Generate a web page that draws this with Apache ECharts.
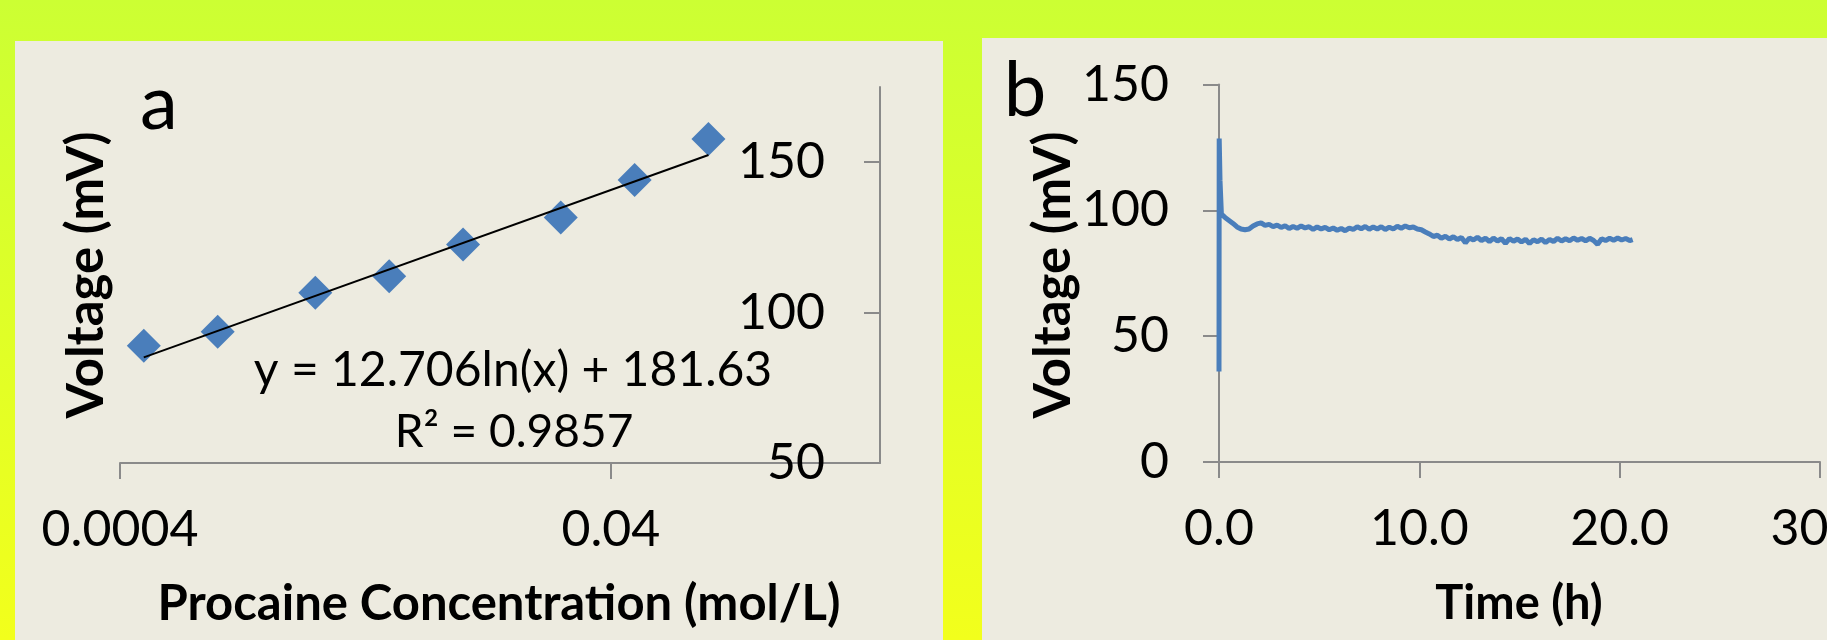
<!DOCTYPE html>
<html>
<head>
    <meta charset="utf-8">
    <script src="https://cdn.jsdelivr.net/npm/echarts@6/dist/echarts.min.js"></script>
    <style>
        html, body { margin: 0; padding: 0; }
        #chart { width: 1827px; height: 640px; }
    </style>
</head>
<body>
    <div id="chart"></div>
    <script type="text/javascript">
        // panel a: procaine concentration (mol/L) vs voltage (mV)
        var concA = [0.0005, 0.001, 0.0025, 0.005, 0.01, 0.025, 0.05, 0.1];
        var voltA = [89.0, 93.6, 106.6, 112.1, 122.6, 131.6, 144.1, 157.7];
        // log fit y = 12.706ln(x) + 181.63, end points as drawn
        var fitConc = [0.0005, 0.1];
        var fitVolt = [85.1, 152.4];
        var xTicksA = [0.0004, 0.04];
        var xTickLabelsA = ['0.0004', '0.04'];
        var yTicksA = [50, 100, 150];

        // panel b: voltage trace over time (h, mV)
        var traceB = [
            [0, 36], [0.01, 128.5], [0.05, 112], [0.12, 98.5], [0.3, 97.2], [0.5, 96.0],
            [0.7, 94.8], [0.9, 93.4], [1.1, 92.6], [1.3, 92.3], [1.5, 92.6], [1.7, 93.8],
            [1.9, 94.6], [2.1, 95.0], [2.3, 94.0], [2.5, 94.4], [2.7, 93.5], [2.9, 94.1],
            [3.1, 93.2], [3.3, 93.9], [3.5, 92.8], [3.7, 93.6], [3.9, 92.9], [4.1, 93.8],
            [4.3, 93.0], [4.5, 93.5], [4.7, 92.4], [4.9, 93.4], [5.1, 92.6], [5.3, 93.2],
            [5.5, 92.3], [5.7, 93.0], [5.9, 92.1], [6.1, 92.8], [6.3, 91.9], [6.5, 92.9],
            [6.7, 92.4], [6.9, 93.5], [7.1, 92.7], [7.3, 93.6], [7.5, 92.5], [7.7, 93.4],
            [7.9, 92.6], [8.1, 93.5], [8.3, 92.4], [8.5, 93.3], [8.7, 92.6], [8.9, 93.7],
            [9.1, 92.9], [9.3, 93.8], [9.5, 93.1], [9.7, 93.4], [9.9, 92.6], [10.1, 92.3],
            [10.3, 91.4], [10.5, 90.6], [10.7, 89.6], [10.9, 90.1], [11.1, 88.9], [11.3, 89.7],
            [11.5, 88.6], [11.7, 89.5], [11.9, 88.4], [12.1, 89.2], [12.3, 87.1], [12.5, 89.0],
            [12.7, 88.2], [12.9, 89.3], [13.1, 88.0], [13.3, 88.9], [13.5, 87.6], [13.7, 89.0],
            [13.9, 87.8], [14.1, 88.7], [14.3, 86.9], [14.5, 88.8], [14.7, 87.7], [14.9, 88.6],
            [15.1, 87.4], [15.3, 88.5], [15.5, 86.8], [15.7, 88.3], [15.9, 87.5], [16.1, 88.6],
            [16.3, 87.2], [16.5, 88.4], [16.7, 87.6], [16.9, 88.9], [17.1, 87.8], [17.3, 88.7],
            [17.5, 87.9], [17.7, 89.0], [17.9, 88.1], [18.1, 88.8], [18.3, 87.9], [18.5, 88.9],
            [18.7, 88.0], [18.9, 86.5], [19.1, 88.7], [19.3, 88.0], [19.5, 88.9], [19.7, 88.1],
            [19.9, 89.0], [20.1, 88.2], [20.3, 88.8], [20.5, 88.0], [20.65, 88.4]
        ];

        var FONT = 'Lato';
        var AXIS_GREY = '#8a8a8a';
        var BLUE = '#4a7ebb';
        var PANEL = '#edebe0';

        function pairs(xs, ys) {
            return xs.map(function (x, i) { return [x, ys[i]]; });
        }

        function tickLabelA(v) {
            for (var i = 0; i < xTicksA.length; i++) {
                if (Math.abs(Math.log10(v / xTicksA[i])) < 0.01) return xTickLabelsA[i];
            }
            return '';
        }

        var labelStyle = { color: '#000', fontFamily: FONT, fontSize: 50 };
        var lineStyle = { color: AXIS_GREY, width: 2 };

        function txt(text, x, y, size, bold, rot) {
            return {
                type: 'text', x: x, y: y, rotation: rot || 0, z: 50,
                style: {
                    text: text, fill: '#000', align: 'center', verticalAlign: 'middle',
                    font: (bold ? 'bold ' : '') + size + 'px ' + FONT
                }
            };
        }

        var option = {
            animation: false,
            backgroundColor: {
                type: 'linear', x: 0, y: 0, x2: 0, y2: 1,
                colorStops: [{ offset: 0, color: '#ccff33' }, { offset: 1, color: '#f2ff1c' }]
            },
            graphic: [
                { type: 'rect', z: -10, shape: { x: 15, y: 41, width: 928, height: 600 }, style: { fill: PANEL } },
                { type: 'rect', z: -10, shape: { x: 982, y: 38, width: 846, height: 602 }, style: { fill: PANEL } },
                txt('a', 159, 104, 76, false),
                txt('b', 1025, 91, 76, false),
                txt('Voltage (mV)', 87, 275, 51, true, Math.PI / 2),
                txt('Voltage (mV)', 1054, 275, 51, true, Math.PI / 2),
                txt('Procaine Concentration (mol/L)', 499, 604, 49, true),
                txt('Time (h)', 1519, 604, 47, true),
                txt('y = 12.706ln(x) + 181.63', 513, 371, 48, false),
                txt('R² = 0.9857', 514, 432, 46, false)
            ],
            grid: [
                { left: 120, top: 87, width: 760, height: 376, outerBoundsMode: 'none', containLabel: false },
                { left: 1219, top: 84.5, width: 601, height: 377.5, outerBoundsMode: 'none', containLabel: false }
            ],
            xAxis: [
                {
                    gridIndex: 0, type: 'log', logBase: 100, min: 0.0004, max: 0.5,
                    axisLine: { lineStyle: lineStyle },
                    axisTick: { length: 16, lineStyle: lineStyle, customValues: xTicksA },
                    axisLabel: Object.assign({ margin: 42, customValues: xTicksA, formatter: tickLabelA }, labelStyle),
                    splitLine: { show: false },
                    minorTick: { show: false }
                },
                {
                    gridIndex: 1, type: 'value', min: 0, max: 30, interval: 10,
                    axisLine: { lineStyle: lineStyle },
                    axisTick: { length: 16, lineStyle: lineStyle },
                    axisLabel: Object.assign({ margin: 42, formatter: function (v) { return v.toFixed(1); } }, labelStyle),
                    splitLine: { show: false }
                }
            ],
            yAxis: [
                {
                    gridIndex: 0, type: 'value', position: 'right', min: 50, max: 175, interval: 50,
                    axisLine: { show: true, lineStyle: lineStyle },
                    axisTick: { show: true, inside: true, length: 16, lineStyle: lineStyle, customValues: yTicksA },
                    axisLabel: Object.assign({ inside: true, margin: 55, customValues: yTicksA }, labelStyle),
                    splitLine: { show: false }
                },
                {
                    gridIndex: 1, type: 'value', min: 0, max: 150, interval: 50,
                    axisLine: { show: true, lineStyle: lineStyle },
                    axisTick: { show: true, length: 16, lineStyle: lineStyle },
                    axisLabel: Object.assign({ margin: 50 }, labelStyle),
                    splitLine: { show: false }
                }
            ],
            series: [
                {
                    type: 'scatter', xAxisIndex: 0, yAxisIndex: 0, z: 3,
                    symbol: 'diamond', symbolSize: 34,
                    itemStyle: { color: BLUE, opacity: 1 },
                    data: pairs(concA, voltA)
                },
                {
                    type: 'line', xAxisIndex: 0, yAxisIndex: 0, z: 4,
                    showSymbol: false, symbol: 'none',
                    lineStyle: { color: '#000', width: 2 },
                    data: pairs(fitConc, fitVolt)
                },
                {
                    type: 'line', xAxisIndex: 1, yAxisIndex: 1,
                    showSymbol: false, symbol: 'none',
                    lineStyle: { color: BLUE, width: 5 },
                    data: traceB
                }
            ]
        };

        var myChart = echarts.init(document.getElementById('chart'));
        myChart.setOption(option);
    </script>
</body>
</html>
